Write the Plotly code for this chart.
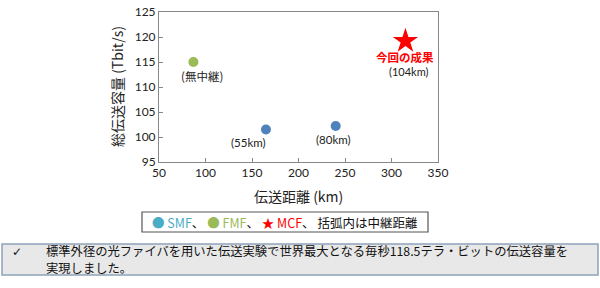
import plotly.graph_objects as go

# Data
smf_x = [165, 240]
smf_y = [101.5, 102.2]
smf_labels = ["(55km)", "(80km)"]
fmf_x = [87]
fmf_y = [115]
fmf_labels = ["(無中継)"]
mcf_x = [315]
mcf_y = [119.2]
mcf_labels = ["(104km)"]
x_ticks = [50, 100, 150, 200, 250, 300, 350]
y_ticks = [95, 100, 105, 110, 115, 120, 125]
message_lines = ["標準外径の光ファイバを用いた伝送実験で世界最大となる毎秒118.5テラ・ビットの伝送容量を",
                 "実現しました。"]

JP = "Noto Sans CJK JP"
NUM = "Lato, Noto Sans CJK JP"

L, R, T, B = 159, 438, 12, 162
W, H = R - L, B - T


def px(x):
    return (x - L) / W


def py(y):
    return (B - y) / H


fig = go.Figure()
fig.add_trace(go.Scatter(x=smf_x, y=smf_y, mode="markers",
                         marker=dict(color="#4F81BD", size=10), showlegend=False))
fig.add_trace(go.Scatter(x=fmf_x, y=fmf_y, mode="markers",
                         marker=dict(color="#9BBB59", size=10), showlegend=False))
fig.add_trace(go.Scatter(x=mcf_x, y=mcf_y, mode="markers",
                         marker=dict(color="#FF0000", size=19, symbol="star"), showlegend=False))

# point labels
for x, y, t in zip(smf_x, smf_y, smf_labels):
    fig.add_annotation(x=x, y=y, text=t, showarrow=False, yshift=-13,
                       xshift=-17 if t == "(55km)" else -2,
                       xanchor="center", yanchor="middle",
                       font=dict(family=NUM, size=11.5, color="#222"))
for x, y, t in zip(fmf_x, fmf_y, fmf_labels):
    fig.add_annotation(x=x, y=y, text=t, showarrow=False, yshift=-14, xshift=9,
                       xanchor="center", yanchor="middle",
                       font=dict(family=JP, size=11.5, color="#222"))
for x, y, t in zip(mcf_x, mcf_y, mcf_labels):
    fig.add_annotation(x=x, y=y, text="<b>今回の成果</b>", showarrow=False, yshift=-16,
                       xanchor="center", yanchor="middle",
                       font=dict(family=JP, size=11.5, color="#FF0000"))
    fig.add_annotation(x=x, y=y, text=t, showarrow=False, yshift=-30, xshift=4,
                       xanchor="center", yanchor="middle",
                       font=dict(family=NUM, size=11, color="#222"))

fig.update_xaxes(range=[50, 350], tickvals=x_ticks, ticks="inside", ticklen=4,
                 tickcolor="#888", showline=True, linecolor="#888", mirror=True,
                 showgrid=False, zeroline=False, automargin=False,
                 tickfont=dict(family=NUM, size=12, color="#222"))
fig.update_yaxes(range=[95, 125], tickvals=y_ticks, ticks="inside", ticklen=4,
                 tickcolor="#888", showline=True, linecolor="#888", mirror=True,
                 showgrid=False, zeroline=False, automargin=False,
                 tickfont=dict(family=NUM, size=12, color="#222"))

# axis titles
fig.add_annotation(xref="paper", yref="paper", x=px(298), y=py(196),
                   xanchor="center", yanchor="middle",
                   text="伝送距離 (km)", showarrow=False,
                   font=dict(family=JP, size=14, color="#222"))
fig.add_annotation(xref="paper", yref="paper", x=px(117), y=py(87), textangle=-90,
                   xanchor="center", yanchor="middle",
                   text="総伝送容量 (Tbit/s)", showarrow=False,
                   font=dict(family=JP, size=14, color="#222"))

# legend box
legend_text = ("<span style='color:#4BACC6'>●</span> <span style='color:#4BACC6'>SMF</span>、 "
               "<span style='color:#9BBB59'>●</span> <span style='color:#9BBB59'>FMF</span>、 "
               "<span style='color:#FF0000'>★ MCF</span>、 括弧内は中継距離")
fig.add_shape(type="rect", xref="paper", yref="paper",
              x0=px(142), x1=px(428), y0=py(232), y1=py(212),
              line=dict(color="#555", width=1.2), fillcolor="white")
fig.add_annotation(xref="paper", yref="paper", x=px(285), y=py(222),
                   xanchor="center", yanchor="middle",
                   text=legend_text, showarrow=False,
                   font=dict(family=JP, size=12.5, color="#111"))

# bottom message box
fig.add_shape(type="rect", xref="paper", yref="paper",
              x0=px(2), x1=px(598), y0=py(275), y1=py(244),
              line=dict(color="#8FA3B8", width=1.5), fillcolor="#E8E8E8")
fig.add_annotation(xref="paper", yref="paper", x=px(17), y=py(252),
                   xanchor="center", yanchor="middle",
                   text="✓", showarrow=False,
                   font=dict(family="DejaVu Sans", size=12, color="#111"))
for i, line in enumerate(message_lines):
    fig.add_annotation(xref="paper", yref="paper", x=px(45), y=py(251 + 17 * i),
                       xanchor="left", yanchor="middle", align="left",
                       text=line, showarrow=False, borderpad=0,
                       font=dict(family=JP, size=12.3, color="#111"))

fig.update_layout(width=600, height=288, margin=dict(l=L, r=600 - R, t=T, b=288 - B),
                  plot_bgcolor="white", paper_bgcolor="white", showlegend=False)

fig.write_html("out.html")
